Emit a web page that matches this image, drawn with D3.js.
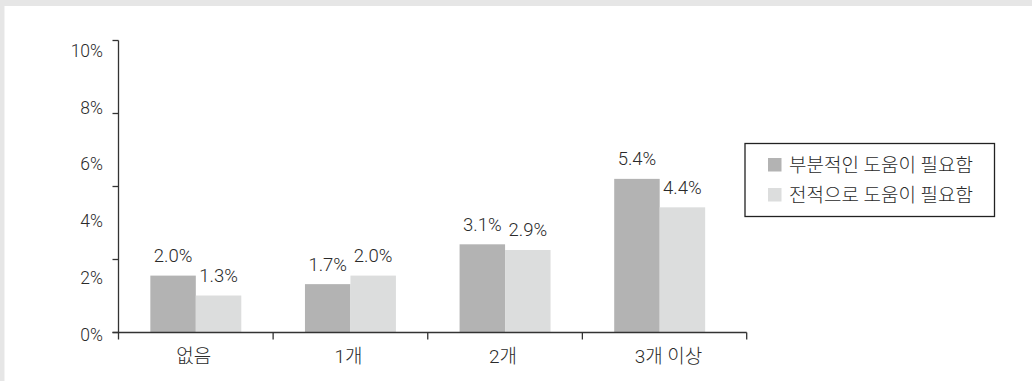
<!DOCTYPE html>
<html>
<head>
<meta charset="utf-8">
<script src="https://cdn.jsdelivr.net/npm/d3@7"></script>
<style>
  html, body { margin: 0; padding: 0; background: #fff; }
  svg { display: block; }
  text { font-family: "Roboto", "Noto Sans CJK KR", sans-serif; fill: #2a2a2a; }
  .num { font-weight: 300; }
</style>
</head>
<body>
<svg id="chart" width="1032" height="381"></svg>
<script>
// Care needs by number of conditions
const categories = ["없음", "1개", "2개", "3개 이상"];
const seriesNames = ["부분적인 도움이 필요함", "전적으로 도움이 필요함"];
const partialHelp = [2.0, 1.7, 3.1, 5.4];
const fullHelp = [1.3, 2.0, 2.9, 4.4];
const yTickLabels = [0, 2, 4, 6, 8, 10];
const seriesColors = ["#b3b3b3", "#dcdddd"];

const seriesValues = [partialHelp, fullHelp];
const rows = categories.map((c, i) => ({
  cat: c,
  vals: seriesNames.map((s, j) => ({ key: s, value: seriesValues[j][i] }))
}));

const svg = d3.select("#chart");

// page frame: grey strip on top and left, white panel
svg.append("rect").attr("width", 1032).attr("height", 381).attr("fill", "#e6e6e6");
svg.append("rect").attr("x", 4.5).attr("y", 6).attr("width", 1032).attr("height", 381).attr("fill", "#fff");

const x0 = 118.5, yBase = 332.5, axisTop = 40.5, axisRight = 746.7;

const x = d3.scaleBand().domain(categories).range([x0, 737]).paddingInner(0).paddingOuter(0);
const xs = d3.scaleBand().domain(seriesNames).range([0, x.bandwidth()]).paddingInner(0).paddingOuter(0.7);
const y = d3.scaleLinear().domain([0, 10]).range([yBase, 48]);

const axisColor = "#333";
const g = svg.append("g");

// y axis line and its tick marks (four equal intervals along the line)
g.append("line").attr("x1", x0).attr("x2", x0).attr("y1", axisTop).attr("y2", yBase + 7)
  .attr("stroke", axisColor).attr("stroke-width", 1.3);
d3.range(5).forEach(i => {
  const ty = yBase + (axisTop - yBase) * i / 4;
  g.append("line").attr("x1", x0 - 6).attr("x2", x0).attr("y1", ty).attr("y2", ty)
    .attr("stroke", axisColor).attr("stroke-width", 1.3);
});

// y tick labels
g.selectAll(".ylab").data(yTickLabels).join("text")
  .attr("class", "ylab num")
  .attr("x", x0 - 15.5)
  .attr("y", d => y(d) + 2.5)
  .attr("dy", "0.35em")
  .attr("text-anchor", "end")
  .attr("font-size", 17.5)
  .text(d => d + "%");

// bars
const groups = g.selectAll(".grp").data(rows).join("g")
  .attr("class", "grp")
  .attr("transform", d => `translate(${x(d.cat)},0)`);

groups.selectAll("rect").data(d => d.vals).join("rect")
  .attr("x", d => xs(d.key))
  .attr("width", xs.bandwidth())
  .attr("y", d => y(d.value))
  .attr("height", d => y(0) - y(d.value))
  .attr("fill", (d, i) => seriesColors[i]);

groups.selectAll(".val").data(d => d.vals).join("text")
  .attr("class", "val num")
  .attr("x", d => xs(d.key) + xs.bandwidth() / 2)
  .attr("y", d => y(d.value) - 13.5)
  .attr("text-anchor", "middle")
  .attr("font-size", 18.5)
  .text(d => d.value.toFixed(1) + "%");

// x axis line with category separators
g.append("line").attr("x1", x0 - 6).attr("x2", axisRight).attr("y1", yBase).attr("y2", yBase)
  .attr("stroke", axisColor).attr("stroke-width", 1.3);
const sepX = categories.slice(1).map(c => x(c)).concat([axisRight]);
sepX.forEach(sx => {
  g.append("line").attr("x1", sx).attr("x2", sx).attr("y1", yBase).attr("y2", yBase + 7)
    .attr("stroke", axisColor).attr("stroke-width", 1.3);
});
const bounds = [x0].concat(sepX);
g.selectAll(".xlab").data(categories).join("text")
  .attr("class", "xlab num")
  .attr("x", (d, i) => (bounds[i] + bounds[i + 1]) / 2 - 2 + (i === 3 ? 6 : 0))
  .attr("y", 363)
  .attr("text-anchor", "middle")
  .attr("font-size", 19)
  .text(d => d);

// legend
const lg = svg.append("g").attr("transform", "translate(745,143.5)");
lg.append("rect").attr("width", 249.5).attr("height", 73).attr("fill", "#fff")
  .attr("stroke", "#222").attr("stroke-width", 1.3);
const items = lg.selectAll(".item").data(seriesNames).join("g")
  .attr("class", "item")
  .attr("transform", (d, i) => `translate(23,${21.5 + i * 30})`);
items.append("rect").attr("y", -7).attr("width", 13.5).attr("height", 13.5)
  .attr("fill", (d, i) => seriesColors[i]);
items.append("text").attr("class", "num").attr("x", 21).attr("dy", "0.35em")
  .attr("font-size", 19).text(d => d);
</script>
</body>
</html>
